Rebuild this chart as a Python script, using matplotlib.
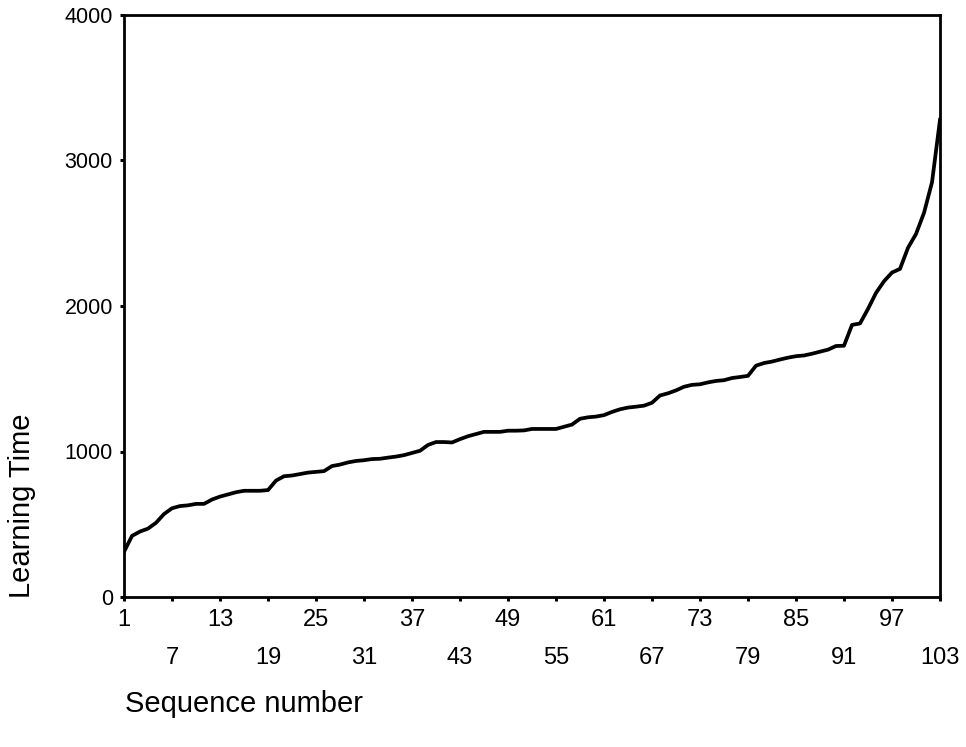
import matplotlib
matplotlib.use("Agg")
import matplotlib.pyplot as plt
import numpy as np

plt.rcParams['font.family'] = ['Liberation Sans', 'DejaVu Sans']

sequence = list(range(1, 104))
learning_time = [
    310, 420, 450, 470, 510, 570, 610, 625, 630, 640,
    640, 670, 690, 705, 720, 730, 730, 730, 735, 800,
    830, 835, 845, 855, 860, 865, 900, 910, 925, 935,
    940, 948, 950, 958, 965, 975, 990, 1005, 1045, 1065,
    1065, 1062, 1085, 1105, 1120, 1135, 1135, 1135, 1143, 1143,
    1145, 1155, 1155, 1155, 1155, 1170, 1185, 1225, 1235, 1240,
    1250, 1272, 1290, 1302, 1308, 1315, 1335, 1385, 1400, 1420,
    1445, 1458, 1462, 1475, 1485, 1490, 1505, 1512, 1520, 1590,
    1608, 1618, 1632, 1645, 1655, 1660, 1672, 1686, 1700, 1725,
    1727, 1870, 1880, 1980, 2090, 2170, 2230, 2255, 2400, 2495,
    2640, 2850, 3280,
]
x_row1 = [1, 13, 25, 37, 49, 61, 73, 85, 97]
x_row2 = [7, 19, 31, 43, 55, 67, 79, 91, 103]
y_ticks = [0, 1000, 2000, 3000, 4000]

fig = plt.figure(figsize=(9.66, 7.47), dpi=100)
ax = fig.add_axes([124/966, 1-597/747, (940-124)/966, (597-15)/747])

ax.plot(sequence, learning_time, color='black', lw=2.7, solid_joinstyle='round')
ax.set_xlim(1, 103)
ax.set_ylim(0, 4000)

ax.set_xticks(x_row1)
ax.set_xticklabels([str(v) for v in x_row1])
ax.set_xticks(x_row2, minor=True)
ax.set_xticklabels([str(v) for v in x_row2], minor=True)
ax.set_yticks(y_ticks)
ax.set_yticklabels([str(v) for v in y_ticks])

ax.tick_params(axis='x', which='major', direction='out', length=3, width=2.2,
               pad=6, labelsize=17)
ax.tick_params(axis='x', which='minor', direction='out', length=3, width=2.2,
               pad=33, labelsize=17)
ax.tick_params(axis='y', which='major', direction='out', length=3, width=2.2,
               pad=5, labelsize=15.5)

for sp in ax.spines.values():
    sp.set_linewidth(2.0)
    sp.set_color('black')

fig.text(22/966, 1-506/747, 'Learning Time', rotation=90, ha='center', va='center',
         fontsize=21)
fig.text(125/966, 1-704/747, 'Sequence number', ha='left', va='center', fontsize=21)

fig.savefig('out.png', dpi=100, facecolor='white')
